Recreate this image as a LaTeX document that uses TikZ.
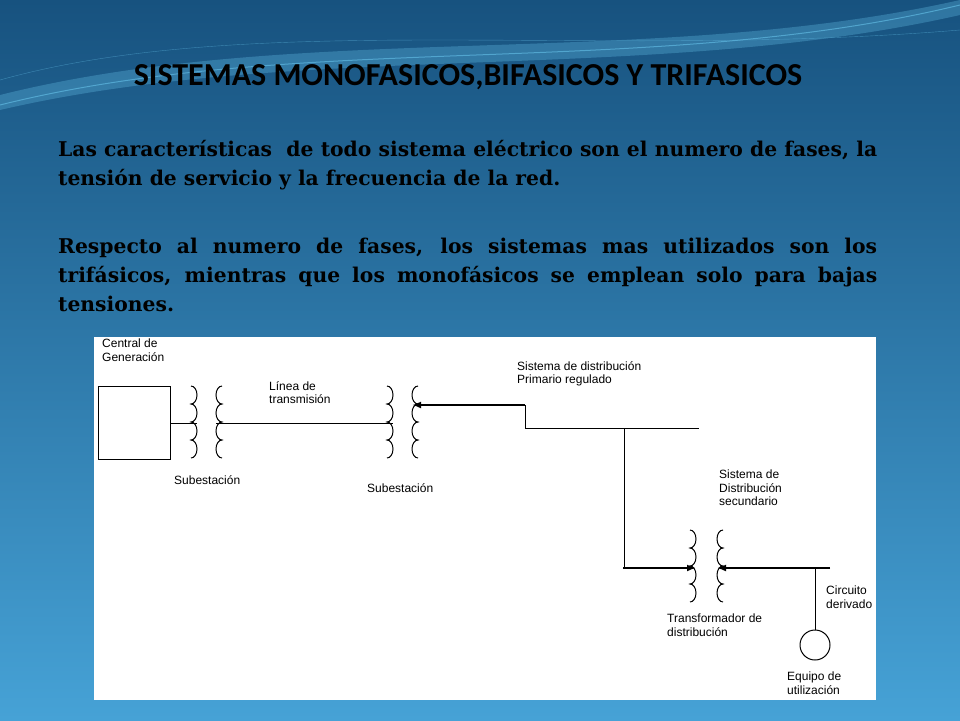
\documentclass[tikz,border=0pt]{standalone}
\usepackage{fontspec}
\setmainfont{DejaVu Serif}
\setsansfont{Liberation Sans}
\newfontfamily\titlefont{Carlito}
\usetikzlibrary{arrows.meta}
\hyphenpenalty=10000\relax
\definecolor{bgtop}{HTML}{17527F}
\definecolor{bgbot}{HTML}{46A2D6}
\definecolor{wave}{HTML}{5FB8E0}
\newcommand{\coilR}[2]{\draw[wire] (#1,#2) foreach \k in {1,...,4} {arc[start angle=-90,end angle=90,x radius=6,y radius=9]};}
\newcommand{\coilL}[2]{\draw[wire] (#1,#2) foreach \k in {1,...,4} {arc[start angle=270,end angle=90,x radius=6,y radius=9]};}
\tikzset{
  wire/.style={line width=1pt},
  feed/.style={line width=2pt, -{Latex[length=9pt,width=7pt]}},
  lbl/.style={font=\sffamily\fontsize{12}{13.5}\selectfont, align=left, anchor=north west, inner sep=0pt},
  body/.style={font=\bfseries\fontsize{20.3}{29}\selectfont, text width=819pt, align=justify, anchor=north west, inner sep=0pt}
}
\begin{document}
\begin{tikzpicture}[x=1pt, y=-1pt]
\useasboundingbox (0,0) rectangle (960,720);
\shade[top color=bgtop, bottom color=bgbot] (0,0) rectangle (960,720);
% waves
\fill[wave, opacity=0.35] (0,95) .. controls (300,20) and (650,70) .. (960,0) -- (960,15) .. controls (650,85) and (300,40) .. (0,110) -- cycle;
\draw[wave, opacity=0.7, line width=1pt] (0,105) .. controls (300,30) and (650,80) .. (960,5);
\draw[wave, opacity=0.5] (0,80) .. controls (250,10) and (600,60) .. (960,30);

\node[font=\titlefont\bfseries\fontsize{32}{34}\selectfont, text=black] (title) at (468,77) {SISTEMAS MONOFASICOS,BIFASICOS Y TRIFASICOS};
\node[body] (par1) at (58,140) {Las características \ de todo sistema eléctrico son el numero de fases, la tensión de servicio y la frecuencia de la red.};
\node[body] (par2) at (58,238) {Respecto al numero de fases, los sistemas mas utilizados son los\linebreak trifásicos, mientras que los monofásicos se emplean solo para bajas\linebreak tensiones.};

% diagram
\fill[white] (94,337) rectangle (876,700);
\node[draw, wire, minimum width=72pt, minimum height=73pt, inner sep=0pt] (gen) at (134,422.5) {};
\coilR{191}{386}
\coilL{222}{386}
\coilR{387}{386}
\coilL{418}{386}
\coilR{690}{530}
\coilL{723}{530}
\coordinate (t1a) at (197,423);
\coordinate (t1b) at (216,423);
\coordinate (t2a) at (393,423);
\coordinate (t2b) at (412,405);
\coordinate (t3a) at (696,568);
\coordinate (t3b) at (717,568);
\coordinate (stepA) at (525,405);
\coordinate (stepB) at (525,428);
\coordinate (primEnd) at (699,428);
\coordinate (tap) at (624,428);
\coordinate (secEnd) at (830,568);
\coordinate (drop) at (815,568);
\node[draw, wire, circle, minimum size=30pt, inner sep=0pt] (load) at (815,645) {};
\draw[wire] (gen.east |- t1a) -- (t1a);
\draw[wire] (t1b) -- (t2a);
\draw[feed] (stepA) -- (t2b);
\draw[wire] (stepA) -- (stepB) -- (primEnd);
\draw[wire] (tap) -- (624,568);
\draw[feed] (623,568) -- (t3a);
\draw[feed] (secEnd) -- (t3b);
\draw[wire] (drop) -- (load.north);

\node[lbl] (lgen) at (102,339) {Central de\\Generación};
\node[lbl] (llin) at (269,381) {Línea de\\transmisión};
\node[lbl] (ls1) at (174,475) {Subestación};
\node[lbl] (ls2) at (367,483) {Subestación};
\node[lbl] (lprim) at (517,361) {Sistema de distribución\\Primario regulado};
\node[lbl] (lsec) at (719,470) {Sistema de\\Distribución\\secundario};
\node[lbl] (lcir) at (826,586) {Circuito\\derivado};
\node[lbl] (ltr) at (667,614) {Transformador de\\distribución};
\node[lbl] (leq) at (787,672) {Equipo de\\utilización};
\end{tikzpicture}
\end{document}
